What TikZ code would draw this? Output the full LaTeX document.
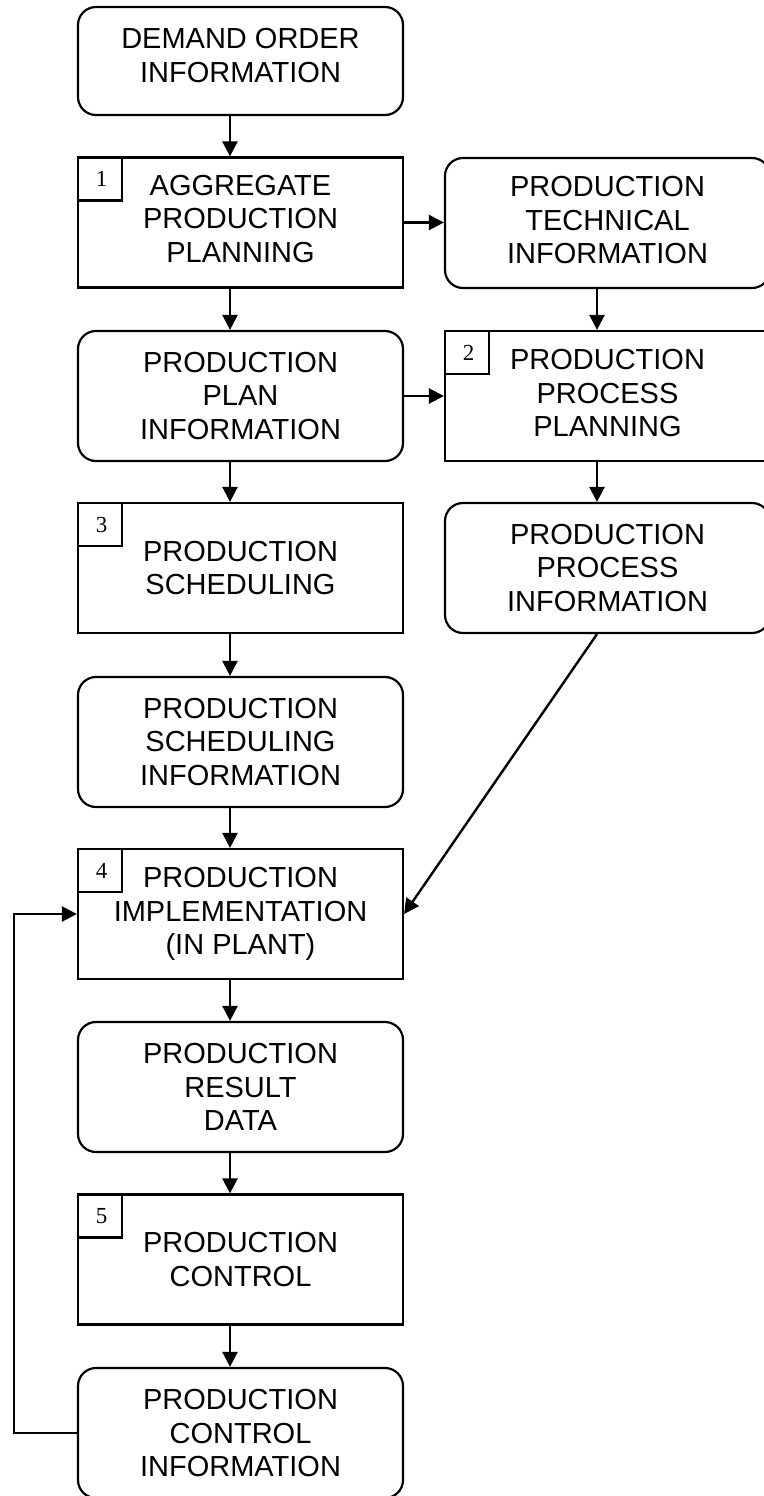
\documentclass[tikz,border=0pt]{standalone}
\usepackage{fontspec}
\setmainfont{Liberation Sans}
\newfontfamily\numfont{Liberation Serif}
\usetikzlibrary{arrows.meta,calc}

\begin{document}
\begin{tikzpicture}[x=1pt,y=-1pt,line width=2.2pt,
  txt/.style={align=center,font=\fontsize{29}{33.5}\selectfont},
  procbox/.style={txt,draw,line width=2.2pt,rectangle,inner sep=0pt,minimum width=325pt,minimum height=130pt},
  infobox/.style={txt,draw,line width=2.2pt,rectangle,rounded corners=18pt,inner sep=0pt,minimum width=325pt,minimum height=130pt},
  numbox/.style={draw,line width=2.2pt,rectangle,inner sep=0pt,minimum width=44pt,minimum height=43pt,
    anchor=north west,font=\numfont\fontsize{23}{23}\selectfont},
  arr/.style={line width=2.4pt,-{Triangle[length=15pt,width=15pt]}}]

\useasboundingbox (0,0) rectangle (763,1496);

% left column: orders, planning, scheduling, plant, control
\node[infobox,minimum height=108pt,text depth=11pt] (demand) at (240.5,61) {DEMAND ORDER\\INFORMATION};
\node[procbox,text depth=8pt] (agg) at (240.5,222.5) {AGGREGATE\\PRODUCTION\\PLANNING};
\node[infobox] (plan) at (240.5,396) {PRODUCTION\\PLAN\\INFORMATION};
\node[procbox] (sched) at (240.5,568) {PRODUCTION\\SCHEDULING};
\node[infobox] (schedinfo) at (240.5,742) {PRODUCTION\\SCHEDULING\\INFORMATION};
\node[procbox,text depth=6pt] (impl) at (240.5,914) {PRODUCTION\\IMPLEMENTATION\\(IN PLANT)};
\node[infobox] (result) at (240.5,1087) {PRODUCTION\\RESULT\\DATA};
\node[procbox] (control) at (240.5,1259.5) {PRODUCTION\\CONTROL};
\node[infobox] (ctrlinfo) at (240.5,1433) {PRODUCTION\\CONTROL\\INFORMATION};

% right column: technical data and process planning
\node[infobox,text depth=6pt] (tech) at (607.5,223) {PRODUCTION\\TECHNICAL\\INFORMATION};
\node[procbox,text depth=6pt] (ppp) at (607.5,396) {PRODUCTION\\PROCESS\\PLANNING};
\node[infobox] (procinfo) at (607.5,568) {PRODUCTION\\PROCESS\\INFORMATION};

% step numbers
\node[numbox] (n1) at (agg.north west) {\hspace{3pt}1};
\node[numbox] (n2) at (ppp.north west) {\hspace{3pt}2};
\node[numbox] (n3) at (sched.north west) {\hspace{3pt}3};
\node[numbox] (n4) at (impl.north west) {\hspace{3pt}4};
\node[numbox] (n5) at (control.north west) {\hspace{3pt}5};

% columns of the vertical connectors
\coordinate (lx) at (230,0);
\coordinate (rx) at (597,0);
\coordinate (fb) at (14,1433);

\draw[arr] (demand.south -| lx) -- (agg.north -| lx);
\draw[arr] (agg.south -| lx) -- (plan.north -| lx);
\draw[arr] (plan.south -| lx) -- (sched.north -| lx);
\draw[arr] (sched.south -| lx) -- (schedinfo.north -| lx);
\draw[arr] (schedinfo.south -| lx) -- (impl.north -| lx);
\draw[arr] (impl.south -| lx) -- (result.north -| lx);
\draw[arr] (result.south -| lx) -- (control.north -| lx);
\draw[arr] (control.south -| lx) -- (ctrlinfo.north -| lx);

\draw[arr] (tech.south -| rx) -- (ppp.north -| rx);
\draw[arr] (ppp.south -| rx) -- (procinfo.north -| rx);

\draw[arr] (agg.east) -- (agg.east -| tech.west);
\draw[arr] (plan.east) -- (plan.east -| ppp.west);
\draw[arr] (procinfo.south -| rx) -- (impl.east);
\draw[arr] (ctrlinfo.west) -- (fb) |- (impl.west);

\end{tikzpicture}
\end{document}
